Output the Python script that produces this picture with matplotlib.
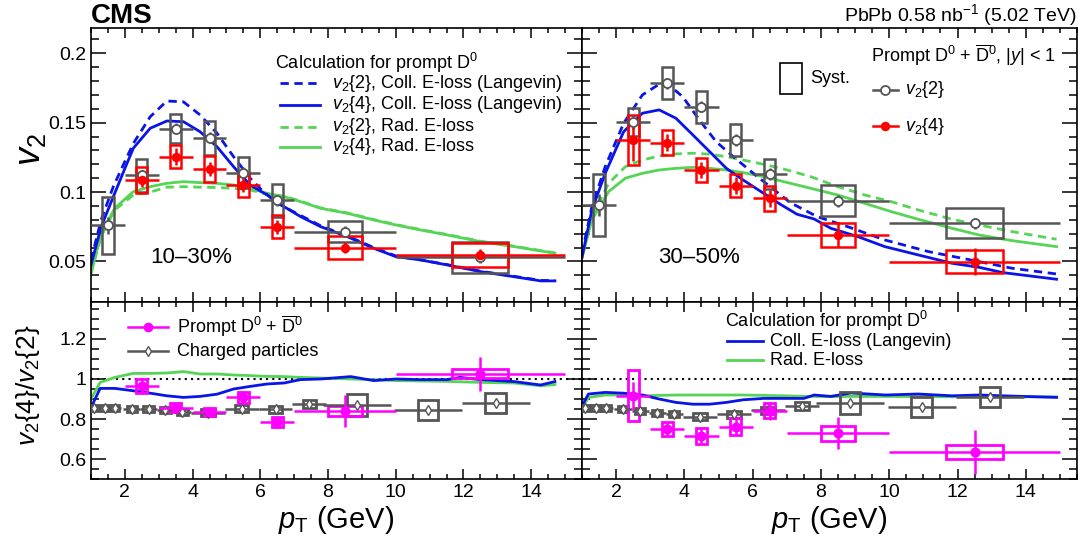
import numpy as np
import matplotlib.pyplot as plt
from matplotlib.patches import Rectangle
from matplotlib.lines import Line2D
from matplotlib.ticker import MultipleLocator, FuncFormatter

plt.rcParams['font.family'] = ['Liberation Sans', 'DejaVu Sans']
plt.rcParams['mathtext.fontset'] = 'custom'
plt.rcParams['mathtext.rm'] = 'Liberation Sans'
plt.rcParams['mathtext.it'] = 'Liberation Sans:italic'
plt.rcParams['mathtext.bf'] = 'Liberation Sans:bold'

# ---- D0 v2 data (bins in pT) ----
pt = [1.5, 2.5, 3.5, 4.5, 5.5, 6.5, 8.5, 12.5]
pt_half = [0.5, 0.5, 0.5, 0.5, 0.5, 0.5, 1.5, 2.5]

# 10-30%
v22_c1 = [0.076, 0.112, 0.1455, 0.139, 0.114, 0.094, 0.0715, 0.053]
v22_c1_stat = [0.006, 0.004, 0.004, 0.004, 0.004, 0.004, 0.004, 0.004]
v22_c1_syst = [0.0205, 0.012, 0.0105, 0.0125, 0.011, 0.012, 0.0078, 0.011]
v24_c1 = [0.1087, 0.1255, 0.1166, 0.1051, 0.0751, 0.0599, 0.0547]
v24_c1_stat = [0.005, 0.006, 0.005, 0.005, 0.005, 0.004, 0.004]
v24_c1_syst = [0.0096, 0.0084, 0.0096, 0.0084, 0.0084, 0.0084, 0.0084]

# 30-50%
v22_c2 = [0.0907, 0.1507, 0.1784, 0.1615, 0.1375, 0.113, 0.0936, 0.0775]
v22_c2_stat = [0.008, 0.005, 0.004, 0.004, 0.004, 0.004, 0.004, 0.004]
v22_c2_syst = [0.022, 0.010, 0.0117, 0.0114, 0.0112, 0.0105, 0.0112, 0.0108]
v24_c2 = [0.1375, 0.1356, 0.1159, 0.1046, 0.0955, 0.0691, 0.0499]
v24_c2_stat = [0.015, 0.006, 0.006, 0.006, 0.006, 0.009, 0.010]
v24_c2_syst = [0.018, 0.009, 0.009, 0.0085, 0.0088, 0.0088, 0.0084]

# ratio v2{4}/v2{2}, D0
rat_c1 = [0.966, 0.857, 0.836, 0.908, 0.787, 0.841, 1.027]
rat_c1_stat = [0.04, 0.02, 0.015, 0.025, 0.03, 0.08, 0.085]
rat_c1_syst = [0.035, 0.024, 0.019, 0.027, 0.025, 0.025, 0.024]
rat_c2 = [0.916, 0.752, 0.715, 0.762, 0.841, 0.729, 0.635]
rat_c2_stat = [0.07, 0.03, 0.035, 0.045, 0.045, 0.08, 0.11]
rat_c2_syst = [0.128, 0.035, 0.04, 0.042, 0.038, 0.037, 0.037]

# ratio, charged particles
ch_pt = [1.1, 1.4, 1.7, 2.2, 2.7, 3.2, 3.7, 4.45, 5.45, 6.45, 7.45, 8.85, 10.95, 12.95]
ch_half = [0.1, 0.2, 0.2, 0.25, 0.25, 0.25, 0.25, 0.5, 0.5, 0.5, 0.5, 1.0, 1.0, 1.0]
ch_c1 = [0.857, 0.857, 0.857, 0.852, 0.848, 0.843, 0.835, 0.832, 0.852, 0.848, 0.874, 0.869, 0.844, 0.879]
ch_c2 = [0.857, 0.857, 0.857, 0.848, 0.841, 0.829, 0.824, 0.812, 0.824, 0.843, 0.866, 0.879, 0.861, 0.908]
ch_syst = [0.015, 0.015, 0.015, 0.015, 0.015, 0.015, 0.015, 0.018, 0.018, 0.018, 0.02, 0.055, 0.05, 0.05]

# ---- model curves ----
# 10-30%
m1_x_coll2 = [1.0, 1.3, 1.66, 2.0, 2.25, 2.75, 3.24, 3.73, 4.22, 4.72, 5.21, 5.7, 6.04, 6.5,
              7.2, 7.8, 8.6, 9.35, 10.0, 10.7, 11.5, 12.5, 13.5, 14.3, 14.7]
m1_coll2 = [0.051, 0.08, 0.104, 0.122, 0.135, 0.1543, 0.1656, 0.165, 0.1556, 0.1424, 0.1255,
            0.110, 0.1015, 0.092, 0.083, 0.0755, 0.068, 0.060, 0.054, 0.0513, 0.0478, 0.043,
            0.0393, 0.0363, 0.0363]
m1_x_coll4 = [1.0, 1.3, 1.66, 2.0, 2.25, 2.75, 3.24, 3.73, 4.22, 4.72, 5.21, 5.7, 6.2, 6.7,
              7.19, 7.78, 8.57, 9.35, 10.0, 10.73, 11.52, 12.5, 13.5, 14.28, 14.7]
m1_coll4 = [0.0475, 0.075, 0.0967, 0.117, 0.1316, 0.146, 0.1512, 0.1507, 0.1435, 0.1327,
            0.1183, 0.1051, 0.0979, 0.0895, 0.0823, 0.0751, 0.0679, 0.0595, 0.0535, 0.0511,
            0.0475, 0.0427, 0.039, 0.036, 0.036]
m1_x_rad = [1.0, 1.3, 1.7, 2.25, 2.75, 3.24, 3.73, 4.22, 4.72, 5.21, 5.7, 6.2, 6.7, 7.19,
            7.78, 8.57, 9.35, 10.0, 10.73, 11.52, 12.5, 13.5, 14.7]
m1_rad2 = [0.0415, 0.068, 0.0871, 0.0979, 0.1, 0.1035, 0.1039, 0.1035, 0.1033, 0.1027, 0.1015,
           0.0985, 0.097, 0.0935, 0.0886, 0.085, 0.0802, 0.0766, 0.073, 0.0694, 0.0646,
           0.061, 0.0562]
m1_rad4 = [0.0415, 0.07, 0.0883, 0.1003, 0.1039, 0.1063, 0.1075, 0.1068, 0.1063, 0.1051,
           0.1027, 0.0991, 0.0967, 0.0931, 0.0883, 0.0847, 0.0799, 0.0763, 0.0727, 0.0691,
           0.0643, 0.0607, 0.0559]

# 30-50%
m2_x_coll2 = [1.0, 1.29, 1.68, 2.22, 2.77, 3.26, 3.55, 3.95, 4.44, 4.93, 5.43, 6.02, 6.51,
              7.1, 7.89, 8.78, 9.87, 11.15, 12.63, 13.6, 14.9]
m2_coll2 = [0.0559, 0.0895, 0.1183, 0.1496, 0.17, 0.1777, 0.177, 0.1687, 0.1519, 0.1363,
            0.1255, 0.1135, 0.1039, 0.0924, 0.0823, 0.0751, 0.0655, 0.0571, 0.0499, 0.0451,
            0.041]
m2_x_coll4 = [1.0, 1.29, 1.68, 2.22, 2.77, 3.26, 3.75, 4.25, 4.74, 5.23, 5.72, 6.32, 6.81,
              7.3, 7.8, 8.29, 9.08, 9.87, 10.85, 11.84, 12.63, 13.32, 14.9]
m2_coll4 = [0.053, 0.0871, 0.1135, 0.1435, 0.1568, 0.1592, 0.1532, 0.1411, 0.1291, 0.1171,
            0.1087, 0.0991, 0.0912, 0.084, 0.0806, 0.0739, 0.0679, 0.0607, 0.0547, 0.0487,
            0.0458, 0.042, 0.0372]
m2_x_rad = [1.0, 1.29, 1.78, 2.27, 2.77, 3.26, 3.75, 4.25, 4.74, 5.23, 5.72, 6.32, 6.91,
            7.7, 8.49, 9.28, 10.06, 10.85, 11.84, 12.63, 13.6, 14.9]
m2_rad2 = [0.053, 0.0823, 0.1063, 0.1183, 0.1231, 0.126, 0.1275, 0.128, 0.1273, 0.1255,
           0.1231, 0.12, 0.1166, 0.1111, 0.1039, 0.0979, 0.0931, 0.0871, 0.0804, 0.0763,
           0.0715, 0.066]
m2_rad4 = [0.053, 0.0799, 0.1003, 0.11, 0.1135, 0.1159, 0.1171, 0.1178, 0.1171, 0.1159,
           0.114, 0.1111, 0.1075, 0.1027, 0.0979, 0.0919, 0.0859, 0.0804, 0.0739, 0.0691,
           0.065, 0.0607]

# model ratios
r1_x = [1.0, 1.27, 1.71, 2.25, 2.75, 3.24, 3.73, 4.22, 4.72, 5.21, 5.7, 6.2, 6.7, 7.19,
        7.78, 8.67, 9.35, 10.0, 10.73, 11.52, 11.9, 12.5, 13.5, 14.28, 14.7]
r1_coll = [0.857, 0.953, 0.953, 0.941, 0.929, 0.916, 0.908, 0.913, 0.924, 0.95, 0.963, 0.975,
           0.98, 0.997, 1.0, 1.012, 0.992, 1.0, 0.997, 0.997, 1.008, 0.997, 0.987, 0.97, 0.987]
r1_rad = [0.9, 0.983, 1.008, 1.028, 1.028, 1.03, 1.037, 1.025, 1.025, 1.02, 1.017, 1.013,
          1.012, 1.008, 1.005, 1.0, 0.997, 0.992, 0.99, 0.988, 0.986, 0.983, 0.98, 0.966, 0.972]
r2_x = [1.0, 1.19, 1.68, 2.22, 2.77, 3.26, 3.75, 4.25, 4.74, 5.23, 5.72, 6.32, 6.91, 7.5,
        7.8, 8.29, 8.88, 9.9, 10.85, 11.84, 12.63, 13.32, 14.9]
r2_coll = [0.866, 0.925, 0.933, 0.929, 0.92, 0.9, 0.883, 0.874, 0.874, 0.883, 0.896, 0.903,
           0.903, 0.903, 0.92, 0.913, 0.93, 0.92, 0.925, 0.916, 0.92, 0.916, 0.908]
r2_rad = [0.857, 0.908, 0.92, 0.92, 0.916, 0.918, 0.92, 0.92, 0.92, 0.92, 0.92, 0.918, 0.916,
          0.913, 0.913, 0.912, 0.913, 0.913, 0.912, 0.911, 0.911, 0.911, 0.911]

GRAY = '#555555'
RED = '#ff0000'
BLUE = '#0a14e6'
GREEN = '#55d455'
MAG = '#ff00ff'


def syst_boxes(ax, x, y, s, w, color, lw=1.8):
    for xi, yi, si, wi in zip(x, y, s, w):
        ax.add_patch(Rectangle((xi - wi / 2, yi - si), wi, 2 * si, fill=False,
                               ec=color, lw=lw, zorder=3))


def points(ax, x, y, xe, ye, color, mfc, marker='o', ms=6):
    ax.errorbar(x, y, xerr=xe, yerr=ye, fmt=marker, color=color, mfc=mfc, mec=color,
                ms=ms, mew=1.3, elinewidth=1.8, capsize=0, zorder=5)


def style(ax, ymajor, yminor, ylabels=True, xlabels=True):
    ax.set_xlim(1, 15.5)
    ax.xaxis.set_major_locator(MultipleLocator(2))
    ax.xaxis.set_minor_locator(MultipleLocator(0.5))
    ax.yaxis.set_major_locator(MultipleLocator(ymajor))
    ax.yaxis.set_minor_locator(MultipleLocator(yminor))
    ax.yaxis.set_major_formatter(FuncFormatter(lambda v, p: '%g' % round(v, 3)))
    ax.tick_params(which='both', direction='in', top=True, right=True, labelsize=14,
                   width=1.1)
    ax.tick_params(axis='y', which='major', length=11)
    ax.tick_params(axis='y', which='minor', length=6)
    ax.tick_params(axis='x', which='major', length=7)
    ax.tick_params(axis='x', which='minor', length=3.5)
    ax.tick_params(labelleft=ylabels, labelbottom=xlabels)
    for sp in ax.spines.values():
        sp.set_linewidth(1.2)


def leg_line(ax, x0, x1, y, **kw):
    ax.add_line(Line2D([x0, x1], [y, y], transform=ax.transAxes, **kw))


fig = plt.figure(figsize=(10.86, 5.51), dpi=100)
L, M, R = 91 / 1086, 582 / 1086, 1077 / 1086
T, D, B = 1 - 28 / 551, 1 - 302 / 551, 1 - 479 / 551
ax1 = fig.add_axes([L, D, M - L, T - D])
ax2 = fig.add_axes([M, D, R - M, T - D])
ax3 = fig.add_axes([L, B, M - L, D - B])
ax4 = fig.add_axes([M, B, R - M, D - B])

box_w = [0.33 * 2 * h for h in pt_half]
pt4 = pt[1:]
half4 = pt_half[1:]
box_w4 = box_w[1:]

# ---- top panels ----
for ax, v22, s22, e22, v24, s24, e24, mods in [
        (ax1, v22_c1, v22_c1_syst, v22_c1_stat, v24_c1, v24_c1_syst, v24_c1_stat,
         (m1_x_coll2, m1_coll2, m1_x_coll4, m1_coll4, m1_x_rad, m1_rad2, m1_rad4)),
        (ax2, v22_c2, v22_c2_syst, v22_c2_stat, v24_c2, v24_c2_syst, v24_c2_stat,
         (m2_x_coll2, m2_coll2, m2_x_coll4, m2_coll4, m2_x_rad, m2_rad2, m2_rad4))]:
    xc2, yc2, xc4, yc4, xr, yr2, yr4 = mods
    ax.plot(xr, yr4, color=GREEN, lw=2.0, zorder=2)
    ax.plot(xr, yr2, color=GREEN, lw=2.0, ls=(0, (3, 2)), zorder=2)
    ax.plot(xc4, yc4, color=BLUE, lw=2.0, zorder=2)
    ax.plot(xc2, yc2, color=BLUE, lw=2.0, ls=(0, (3, 2)), zorder=2)
    syst_boxes(ax, pt, v22, s22, box_w, GRAY)
    points(ax, pt, v22, pt_half, e22, GRAY, 'white', ms=6.5)
    syst_boxes(ax, pt4, v24, s24, box_w4, RED)
    points(ax, pt4, v24, half4, e24, RED, RED, ms=5.5)
    ax.set_ylim(0.0208, 0.2182)
    style(ax, 0.05, 0.01, ylabels=(ax is ax1), xlabels=False)

ax1.text(0.12, 0.164, '10\u201330%', transform=ax1.transAxes, fontsize=16, va='center')
ax2.text(0.154, 0.164, '30\u201350%', transform=ax2.transAxes, fontsize=16, va='center')

# legend top-left
ax1.text(0.375, 0.872, r'Calculation for prompt D$^0$', transform=ax1.transAxes,
         fontsize=13, va='center')
leg = [(r'$v_2\{2\}$, Coll. E-loss (Langevin)', BLUE, (0, (3, 2))),
       (r'$v_2\{4\}$, Coll. E-loss (Langevin)', BLUE, '-'),
       (r'$v_2\{2\}$, Rad. E-loss', GREEN, (0, (3, 2))),
       (r'$v_2\{4\}$, Rad. E-loss', GREEN, '-')]
for (lab, col, ls), yy in zip(leg, [0.799, 0.719, 0.639, 0.566]):
    leg_line(ax1, 0.385, 0.466, yy, color=col, ls=ls, lw=2.0)
    ax1.text(0.491, yy, lab, transform=ax1.transAxes, fontsize=13, va='center')

# legend top-right
ax2.text(0.583, 0.901, r'Prompt D$^0$ + $\overline{\mathrm{D}}^0$, $|y|$ < 1',
         transform=ax2.transAxes, fontsize=13, va='center')
ax2.add_patch(Rectangle((0.40, 0.759), 0.044, 0.112, transform=ax2.transAxes,
                        fill=False, ec='black', lw=1.2))
ax2.text(0.461, 0.816, 'Syst.', transform=ax2.transAxes, fontsize=13, va='center')
for lab, col, mfc, yy, ms in [(r'$v_2\{2\}$', GRAY, 'white', 0.774, 6.5),
                              (r'$v_2\{4\}$', RED, RED, 0.642, 5.5)]:
    leg_line(ax2, 0.588, 0.639, yy, color=col, lw=1.8)
    ax2.add_line(Line2D([0.613], [yy], transform=ax2.transAxes, marker='o', ms=ms,
                        mfc=mfc, mec=col, mew=1.3, ls='none'))
    ax2.text(0.653, yy, lab, transform=ax2.transAxes, fontsize=13, va='center')

# ---- ratio panels ----
ch_w = [2 * (0.1 + 0.2 * h) for h in ch_half]
for ax, rat, rs, re, ch, rx, rc, rr in [
        (ax3, rat_c1, rat_c1_syst, rat_c1_stat, ch_c1, r1_x, r1_coll, r1_rad),
        (ax4, rat_c2, rat_c2_syst, rat_c2_stat, ch_c2, r2_x, r2_coll, r2_rad)]:
    ax.axhline(1.0, color='black', ls=(0, (1, 2)), lw=1.5, zorder=1)
    ax.plot(rx, rr, color=GREEN, lw=2.0, zorder=2)
    ax.plot(rx, rc, color=BLUE, lw=2.0, zorder=2)
    syst_boxes(ax, ch_pt, ch, ch_syst, ch_w, GRAY, lw=2.0)
    ax.errorbar(ch_pt, ch, xerr=ch_half, yerr=[0.008] * len(ch_pt), fmt='d', color=GRAY,
                mfc='white', mec=GRAY, ms=5, mew=1.0, elinewidth=1.8, capsize=0, zorder=4)
    syst_boxes(ax, pt4, rat, rs, box_w4, MAG, lw=2.0)
    points(ax, pt4, rat, half4, re, MAG, MAG, ms=6)
    ax.set_ylim(0.5, 1.385)
    style(ax, 0.2, 0.05, ylabels=(ax is ax3), xlabels=True)
    ax.set_xlabel(r'$p_\mathrm{T}$ (GeV)', fontsize=21, labelpad=2)

# legend bottom-left
leg_line(ax3, 0.075, 0.157, 0.861, color=MAG, lw=1.8)
ax3.add_line(Line2D([0.116], [0.861], transform=ax3.transAxes, marker='o', ms=6,
                    mfc=MAG, mec=MAG, ls='none'))
ax3.text(0.175, 0.861, r'Prompt D$^0$ + $\overline{\mathrm{D}}^0$', transform=ax3.transAxes,
         fontsize=13, va='center')
leg_line(ax3, 0.075, 0.157, 0.723, color=GRAY, lw=1.8)
ax3.add_line(Line2D([0.116], [0.723], transform=ax3.transAxes, marker='d', ms=5,
                    mfc='white', mec=GRAY, ls='none'))
ax3.text(0.175, 0.723, 'Charged particles', transform=ax3.transAxes, fontsize=13,
         va='center')

# legend bottom-right
ax4.text(0.289, 0.893, r'Calculation for prompt D$^0$', transform=ax4.transAxes,
         fontsize=13, va='center')
leg_line(ax4, 0.292, 0.366, 0.777, color=BLUE, lw=2.0)
ax4.text(0.38, 0.777, 'Coll. E-loss (Langevin)', transform=ax4.transAxes, fontsize=13,
         va='center')
leg_line(ax4, 0.292, 0.366, 0.672, color=GREEN, lw=2.0)
ax4.text(0.38, 0.672, 'Rad. E-loss', transform=ax4.transAxes, fontsize=13, va='center')

# axis titles and header
fig.text(30 / 1086, 1 - 150 / 551, r'$v_2$', rotation=90, fontsize=26, ha='center',
         va='center')
fig.text(28 / 1086, 1 - 385 / 551, r'$v_2\{4\}/v_2\{2\}$', rotation=90, fontsize=19,
         ha='center', va='center')
fig.text(L, 1 - 23 / 551, 'CMS', fontsize=20, fontweight='bold', ha='left',
         va='baseline')
fig.text(R, 1 - 21 / 551, r'PbPb 0.58 nb$^{-1}$ (5.02 TeV)', fontsize=14, ha='right',
         va='baseline')

fig.savefig('out.png', dpi=100)
